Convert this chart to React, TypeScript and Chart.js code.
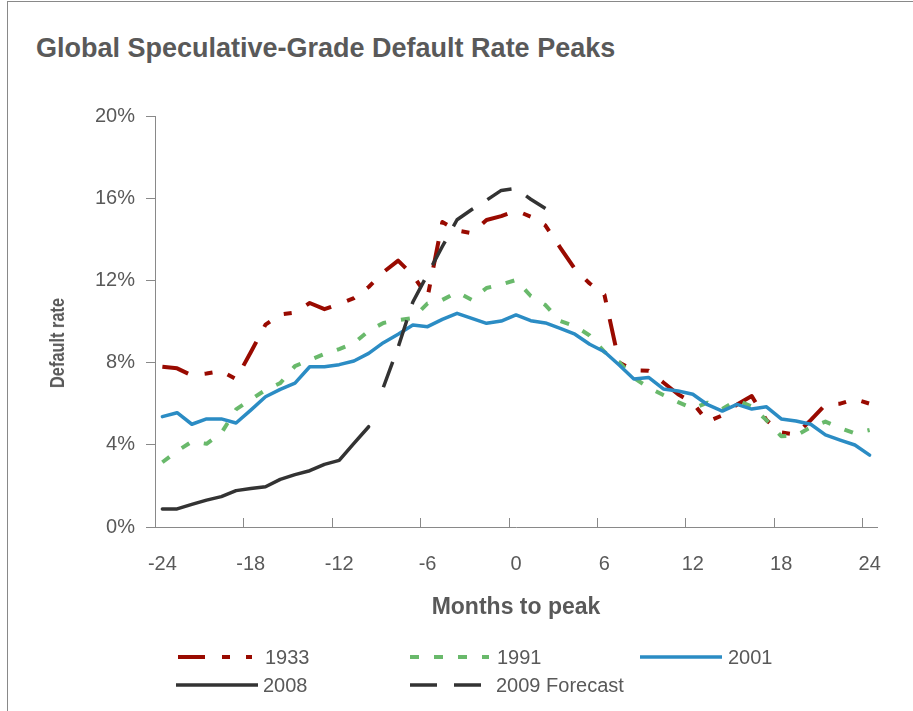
import React, { useEffect, useRef } from "react";
import { Chart, registerables } from "chart.js";

Chart.register(...registerables);

// ---------- data ----------
const MONTHS = [
  -24, -23, -22, -21, -20, -19, -18, -17, -16, -15, -14, -13, -12, -11, -10, -9, -8, -7, -6, -5, -4, -3, -2, -1,
  0, 1, 2, 3, 4, 5, 6, 7, 8, 9, 10, 11, 12, 13, 14, 15, 16, 17, 18, 19, 20, 21, 22, 23, 24,
];
const X_TICK_LABELS = ["-24", "-18", "-12", "-6", "0", "6", "12", "18", "24"];
const Y_TICK_VALUES = [0, 4, 8, 12, 16, 20];
const SERIES_NAMES = ["1933", "1991", "2001", "2008", "2009 Forecast"];

const RATE_1933 = [
  7.8, 7.72, 7.38, 7.47, 7.59, 7.2, 8.5, 9.85, 10.34, 10.43, 10.9, 10.6, 10.85, 11.14, 11.68, 12.4, 12.96, 12.26,
  11.2, 14.84, 14.43, 14.3, 14.94, 15.13, 15.4, 15.1, 14.67, 13.6, 12.55, 11.85, 11.3, 8.0, 7.62, 7.6, 7.03, 6.46,
  6.05, 5.13, 5.43, 5.96, 6.37, 5.2, 4.6, 4.5, 5.2, 5.95, 6.0, 6.22, 6.0,
];
const RATE_1991 = [
  3.15, 3.7, 4.15, 4.05, 4.57, 5.72, 6.2, 6.67, 7.0, 7.83, 8.13, 8.42, 8.66, 8.95, 9.54, 9.93, 10.07, 10.17, 10.88,
  11.05, 11.43, 11.05, 11.63, 11.8, 12.02, 11.24, 10.8, 10.02, 9.78, 9.32, 8.52, 8.03, 7.25, 6.79, 6.42, 6.08, 5.77,
  6.05, 5.74, 6.18, 5.86, 5.2, 4.42, 4.45, 4.85, 5.13, 4.82, 4.55, 4.72,
];
const RATE_2001 = [
  5.37, 5.56, 5.0, 5.26, 5.26, 5.06, 5.69, 6.34, 6.7, 7.0, 7.8, 7.8, 7.9, 8.08, 8.45, 8.97, 9.38, 9.83, 9.75, 10.1,
  10.4, 10.15, 9.91, 10.02, 10.32, 10.04, 9.93, 9.67, 9.38, 8.89, 8.53, 7.88, 7.2, 7.28, 6.72, 6.62, 6.46, 5.95, 5.64,
  5.97, 5.74, 5.85, 5.26, 5.16, 5.0, 4.48, 4.23, 3.99, 3.5,
];
const RATE_2008 = [
  0.88, 0.88, 1.1, 1.31, 1.48, 1.77, 1.87, 1.96, 2.32, 2.55, 2.74, 3.05, 3.24, 4.07, 4.88,
  null, null, null, null, null, null, null, null, null, null, null, null, null, null, null, null, null, null, null,
  null, null, null, null, null, null, null, null, null, null, null, null, null, null, null,
];
const FORECAST_2009 = [
  null, null, null, null, null, null, null, null, null, null, null, null, null, null, null,
  6.8, 8.75, 10.95, 12.3, 13.65, 14.95, 15.45, 15.9, 16.38, 16.47, 15.95, 15.5,
  null, null, null, null, null, null, null, null, null, null, null, null, null, null, null, null, null, null, null,
  null, null, null,
];

// ---------- styles ----------
const FONT = "'Liberation Sans', Arial, sans-serif";
const TEXT = "#595959";
const AXIS = "#898989";
const RED = "#990a00";
const GREEN = "#69b96b";
const BLUE = "#2b8cc4";
const BLACK = "#333333";

const DASH_1933 = [27, 17, 8, 16, 8, 17];
const DASH_1991 = [9, 15];
const DASH_2009 = [27, 17];

const xTickMarks = {
  id: "xTickMarks",
  afterDraw(chart: any) {
    const xs = chart.scales.x;
    const ctx = chart.ctx;
    const step = (xs.right - xs.left) / MONTHS.length;
    ctx.save();
    ctx.strokeStyle = AXIS;
    ctx.lineWidth = 1;
    MONTHS.forEach((m, i) => {
      if (X_TICK_LABELS.includes(String(m))) {
        const x = Math.round(xs.getPixelForValue(i) - step / 2) + 0.5;
        ctx.beginPath();
        ctx.moveTo(x, xs.top);
        ctx.lineTo(x, xs.top - 9);
        ctx.stroke();
      }
    });
    ctx.restore();
  },
};

function LegendItem(props: {
  left: number;
  top: number;
  lineW: number;
  color: string;
  width: number;
  dash?: number[];
  label: string;
  gap: number;
}) {
  const { left, top, lineW, color, width, dash, label, gap } = props;
  return (
    <div style={{ position: "absolute", left, top, height: 24, display: "flex", alignItems: "center" }}>
      <svg width={lineW} height={10} style={{ display: "block" }}>
        <line
          x1={0}
          y1={5}
          x2={lineW}
          y2={5}
          stroke={color}
          strokeWidth={width}
          strokeDasharray={dash ? dash.join(" ") : undefined}
          strokeLinecap={dash ? "butt" : "round"}
        />
      </svg>
      <span style={{ marginLeft: gap, font: `20px ${FONT}`, color: TEXT, whiteSpace: "nowrap", lineHeight: "24px" }}>
        {label}
      </span>
    </div>
  );
}

export default function App() {
  const ref = useRef<HTMLCanvasElement | null>(null);

  useEffect(() => {
    if (!ref.current) return;
    const chart = new Chart(ref.current, {
      type: "line",
      data: {
        labels: MONTHS.map(String),
        datasets: [
          {
            label: SERIES_NAMES[0],
            data: RATE_1933,
            borderColor: RED,
            borderWidth: 4,
            borderDash: DASH_1933,
            borderCapStyle: "butt",
            order: 5,
          },
          {
            label: SERIES_NAMES[1],
            data: RATE_1991,
            borderColor: GREEN,
            borderWidth: 4,
            borderDash: DASH_1991,
            borderCapStyle: "butt",
            order: 4,
          },
          {
            label: SERIES_NAMES[2],
            data: RATE_2001,
            borderColor: BLUE,
            borderWidth: 3.5,
            borderCapStyle: "round",
            order: 3,
          },
          {
            label: SERIES_NAMES[3],
            data: RATE_2008,
            borderColor: BLACK,
            borderWidth: 3.5,
            borderCapStyle: "round",
            order: 2,
          },
          {
            label: SERIES_NAMES[4],
            data: FORECAST_2009,
            borderColor: BLACK,
            borderWidth: 3.5,
            borderDash: DASH_2009,
            borderCapStyle: "butt",
            order: 1,
          },
        ] as any,
      },
      options: {
        responsive: false,
        animation: false,
        devicePixelRatio: 1,
        layout: { padding: { left: 46, top: 116, right: 36, bottom: 90 } },
        elements: {
          point: { radius: 0, hoverRadius: 0 },
          line: { tension: 0, borderJoinStyle: "round" },
        },
        plugins: {
          legend: { display: false },
          title: { display: false },
          tooltip: { enabled: false },
        },
        scales: {
          x: {
            type: "category",
            offset: true,
            grid: { display: false },
            border: { display: true, color: AXIS, width: 1 },
            ticks: {
              autoSkip: false,
              maxRotation: 0,
              minRotation: 0,
              padding: 17,
              color: TEXT,
              font: { family: FONT, size: 20 },
              callback: (_v: any, i: number) =>
                X_TICK_LABELS.includes(String(MONTHS[i])) ? String(MONTHS[i]) : "",
            },
            title: {
              display: true,
              text: "Months to peak",
              color: TEXT,
              font: { family: FONT, size: 23, weight: "bold" },
              padding: { top: 0, bottom: 0 },
            },
            afterFit: (s: any) => {
              s.height = 94;
            },
          },
          y: {
            type: "linear",
            min: 0,
            max: 20,
            grid: { display: true, drawOnChartArea: false, drawTicks: true, tickLength: 9, color: AXIS },
            border: { display: true, color: AXIS, width: 1 },
            afterBuildTicks: (s: any) => {
              s.ticks = Y_TICK_VALUES.map((v) => ({ value: v }));
            },
            ticks: {
              padding: 11,
              color: TEXT,
              font: { family: FONT, size: 20 },
              callback: (v: any) => `${v}%`,
            },
            title: { display: false },
            afterFit: (s: any) => {
              s.width = 109;
            },
          },
        },
      },
      plugins: [xTickMarks],
    });
    return () => chart.destroy();
  }, []);

  return (
    <div
      style={{
        position: "fixed",
        left: 0,
        top: 0,
        width: 913,
        height: 711,
        background: "#ffffff",
        overflow: "hidden",
      }}
    >
      <div
        style={{
          position: "absolute",
          left: 7,
          top: 1,
          width: 920,
          height: 720,
          borderLeft: `1px solid ${AXIS}`,
          borderTop: `1px solid ${AXIS}`,
        }}
      />
      <div
        style={{
          position: "absolute",
          left: 36,
          top: 33,
          font: `bold 27px ${FONT}`,
          lineHeight: "30px",
          color: TEXT,
          whiteSpace: "nowrap",
        }}
      >
        Global Speculative-Grade Default Rate Peaks
      </div>
      <canvas ref={ref} width={913} height={711} style={{ position: "absolute", left: 0, top: 0, width: 913, height: 711 }} />
      <div
        style={{
          position: "absolute",
          left: 57,
          top: 343,
          transform: "translate(-50%, -50%) rotate(-90deg) scaleX(0.78)",
          font: `bold 21px ${FONT}`,
          lineHeight: "24px",
          color: TEXT,
          whiteSpace: "nowrap",
        }}
      >
        Default rate
      </div>
      <LegendItem left={178} top={645} lineW={74} color={RED} width={4} dash={DASH_1933} label={SERIES_NAMES[0]} gap={13} />
      <LegendItem left={410} top={645} lineW={79} color={GREEN} width={4} dash={DASH_1991} label={SERIES_NAMES[1]} gap={8} />
      <LegendItem left={640} top={645} lineW={82} color={BLUE} width={3.5} label={SERIES_NAMES[2]} gap={6} />
      <LegendItem left={176} top={673} lineW={82} color={BLACK} width={3.5} label={SERIES_NAMES[3]} gap={5} />
      <LegendItem left={410} top={673} lineW={72} color={BLACK} width={3.5} dash={DASH_2009} label={SERIES_NAMES[4]} gap={14} />
    </div>
  );
}
